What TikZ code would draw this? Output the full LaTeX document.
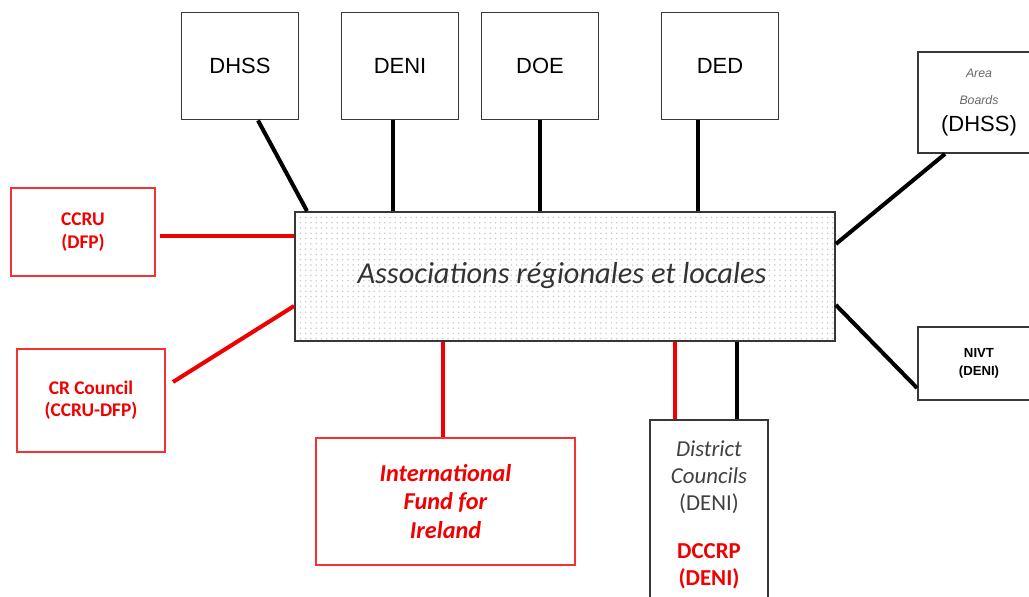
\documentclass[tikz,border=0pt]{standalone}
\usepackage{fontspec}
\setmainfont{Carlito}
\newfontfamily\arialfont{Liberation Sans}
\usetikzlibrary{patterns}
\definecolor{boxgray}{RGB}{55,55,55}
\definecolor{linkred}{RGB}{240,0,0}
\definecolor{redframe}{RGB}{245,50,50}

\begin{document}
\begin{tikzpicture}[x=0.02cm, y=-0.02cm,
  dept/.style={draw=boxgray, line width=1.1pt, minimum width=2.34cm, minimum height=2.14cm,
    font=\arialfont\fontsize{12.5}{15}\selectfont},
  redbox/.style={draw=redframe, line width=1.1pt, text=linkred, align=center,
    font=\bfseries\fontsize{11}{13.5}\selectfont},
  blkline/.style={line width=2.3pt, black},
  redline/.style={line width=2.3pt, linkred}]
\useasboundingbox (0,0) rectangle (1029,597);
% departments on top
\node[dept] (dhss) at (240,66) {DHSS};
\node[dept] (deni) at (400,66) {DENI};
\node[dept] (doe) at (540,66) {DOE};
\node[dept] (ded) at (720,66) {DED};
% central box
\node[draw=boxgray, line width=1.1pt, pattern=dots, pattern color=gray!40,
  minimum width=10.8cm, minimum height=2.58cm] (assoc) at (565,276.5) {};
\node[text=black!80, font=\itshape\fontsize{17.3}{20}\selectfont] (assoctext) at (562,276) {Associations régionales et locales};
% right side boxes
\node[draw=boxgray, line width=1.1pt, minimum width=2.44cm, minimum height=2.02cm, align=center,
  font=\arialfont\fontsize{12.5}{14.5}\selectfont] (area) at (979,102.5)
  {{\color{black!60}\itshape\fontsize{7}{14.5}\selectfont Area}\\[1pt]{\color{black!60}\itshape\fontsize{7}{14.5}\selectfont Boards}\\[1pt](DHSS)};
\node[draw=boxgray, line width=1.1pt, minimum width=2.44cm, minimum height=1.46cm, align=center,
  font=\arialfont\bfseries\fontsize{7.5}{10}\selectfont] (nivt) at (979,363.5) {NIVT\\(DENI)};
% left side red boxes
\node[redbox, minimum width=2.88cm, minimum height=1.76cm] (ccru) at (83,232) {CCRU\\(DFP)};
\node[redbox, minimum width=2.96cm, minimum height=2.06cm, font=\bfseries\fontsize{11}{12.5}\selectfont] (crc) at (91,400.5) {CR Council\\(CCRU-DFP)};
% bottom boxes
\node[redbox, minimum width=5.18cm, minimum height=2.54cm, font=\bfseries\itshape\fontsize{13.8}{16}\selectfont] (ifi) at (445.5,501.5) {International\\Fund for\\Ireland};
\node[draw=boxgray, line width=1.1pt, minimum width=2.36cm, minimum height=3.8cm, align=center,
  text=black!75, font=\fontsize{13}{15.5}\selectfont] (dc) at (709,515)
  {\textit{District}\\\textit{Councils}\\(DENI)\\[0.9em]{\color{linkred}\bfseries DCCRP}\\{\color{linkred}\bfseries (DENI)}};
% black links
\draw[blkline] (258,0 |- dhss.south) -- (307,0 |- assoc.north);
\draw[blkline] (393,0 |- deni.south) -- (393,0 |- assoc.north);
\draw[blkline] (doe.south) -- (540,0 |- assoc.north);
\draw[blkline] (698,0 |- ded.south) -- (698,0 |- assoc.north);
\draw[blkline] (945,0 |- area.south) -- (assoc.east |- 0,244);
\draw[blkline] (nivt.west |- 0,388) -- (assoc.east |- 0,305);
\draw[blkline] (737,0 |- assoc.south) -- (737,0 |- dc.north);
% red links
\draw[redline] (160,0 |- 0,236) -- (assoc.west |- 0,236);
\draw[redline] (173,382) -- (assoc.west |- 0,306);
\draw[redline] (443,0 |- assoc.south) -- (ifi.north -| 443,0);
\draw[redline] (675,0 |- assoc.south) -- (675,0 |- dc.north);
\end{tikzpicture}
\end{document}
